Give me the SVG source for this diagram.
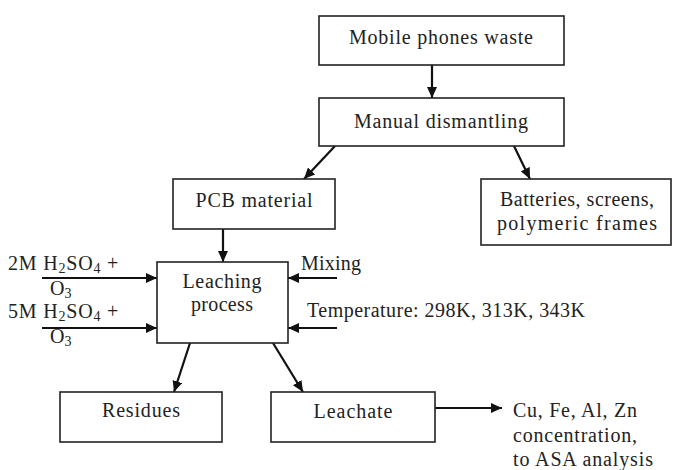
<svg xmlns="http://www.w3.org/2000/svg" width="676" height="470" viewBox="0 0 676 470">
<style>
.box{fill:#fff;stroke:#222;stroke-width:1.6}
.t{font-family:'Liberation Serif','Times New Roman','DejaVu Serif',serif;font-size:20px;fill:#222}
.c{text-anchor:middle}
.sp{letter-spacing:0.8px}
.ln{stroke:#111;stroke-width:2.2;fill:none;marker-end:url(#ah)}
</style>
<defs>
<marker id="ah" markerUnits="userSpaceOnUse" markerWidth="12" markerHeight="10" refX="11" refY="5" orient="auto">
<path d="M0,0 L11,5 L0,10 z" fill="#111"/>
</marker>
</defs>
<rect width="676" height="470" fill="#fff"/>
<g id="connectors">
<line class="ln" x1="432" y1="65" x2="432" y2="98"/>
<line class="ln" x1="335" y1="146" x2="304" y2="179"/>
<line class="ln" x1="514" y1="146" x2="530" y2="179"/>
<line class="ln" x1="223" y1="229" x2="223" y2="262"/>
<line class="ln" x1="42" y1="278" x2="157" y2="278"/>
<line class="ln" x1="42" y1="328" x2="157" y2="328"/>
<line class="ln" x1="337" y1="278" x2="288" y2="278"/>
<line class="ln" x1="337" y1="328" x2="288" y2="328"/>
<line class="ln" x1="190" y1="343" x2="174" y2="392"/>
<line class="ln" x1="273" y1="343" x2="303" y2="392"/>
<line class="ln" x1="435" y1="408" x2="502" y2="408"/>
</g>
<g id="mobile">
<rect class="box" x="319" y="16" width="245" height="49"/>
<text class="t c" x="441" y="44" textLength="184">Mobile phones waste</text>
</g>
<g id="manual">
<rect class="box" x="319" y="98" width="245" height="48"/>
<text class="t c" x="441" y="128" textLength="174">Manual dismantling</text>
</g>
<g id="pcb">
<rect class="box" x="173" y="179" width="162" height="50"/>
<text class="t c" x="254" y="207" textLength="117">PCB material</text>
</g>
<g id="batteries">
<rect class="box" x="481" y="179" width="190" height="66"/>
<text class="t c" x="577" y="206" textLength="154">Batteries, screens,</text>
<text class="t c" x="577" y="230" textLength="160">polymeric frames</text>
</g>
<g id="leaching">
<rect class="box" x="157" y="262" width="131" height="81"/>
<text class="t c" x="222" y="288" textLength="79">Leaching</text>
<text class="t c" x="222" y="311" textLength="62">process</text>
</g>
<g id="acid1">
<text class="t sp" x="8" y="270">2M H<tspan font-size="14" dy="3">2</tspan><tspan dy="-3">SO</tspan><tspan font-size="14" dy="3">4</tspan><tspan dy="-3"> +</tspan></text>
<text class="t" x="50" y="295">O<tspan font-size="14" dy="3">3</tspan></text>
</g>
<g id="acid2">
<text class="t sp" x="8" y="318">5M H<tspan font-size="14" dy="3">2</tspan><tspan dy="-3">SO</tspan><tspan font-size="14" dy="3">4</tspan><tspan dy="-3"> +</tspan></text>
<text class="t" x="50" y="343">O<tspan font-size="14" dy="3">3</tspan></text>
</g>
<g id="mixing">
<text class="t" x="301" y="270" textLength="60">Mixing</text>
</g>
<g id="temperature">
<text class="t" x="307" y="317" textLength="278">Temperature: 298K, 313K, 343K</text>
</g>
<g id="residues">
<rect class="box" x="60" y="392" width="162" height="50"/>
<text class="t c" x="141" y="417" textLength="78">Residues</text>
</g>
<g id="leachate">
<rect class="box" x="271" y="392" width="164" height="50"/>
<text class="t c" x="353" y="418" textLength="79">Leachate</text>
</g>
<g id="analysis">
<text class="t" x="513" y="417" textLength="124">Cu, Fe, Al, Zn</text>
<text class="t" x="513" y="442" textLength="124">concentration,</text>
<text class="t" x="513" y="466" textLength="140">to ASA analysis</text>
</g>
</svg>
